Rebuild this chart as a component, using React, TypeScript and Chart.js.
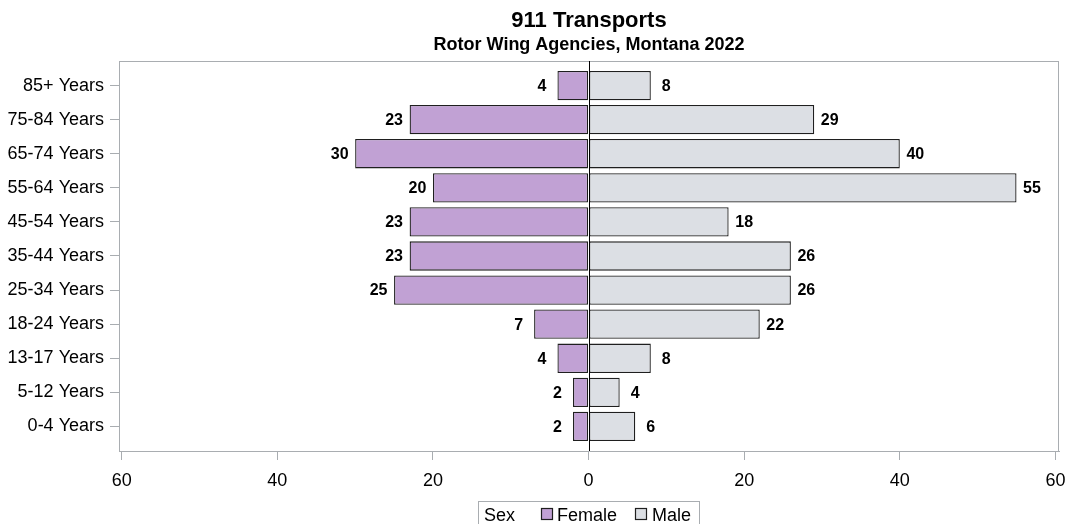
import React, { useEffect, useRef } from "react";
import { Chart, registerables } from "chart.js";

Chart.register(...registerables);

const ageGroups = [
  "85+ Years",
  "75-84 Years",
  "65-74 Years",
  "55-64 Years",
  "45-54 Years",
  "35-44 Years",
  "25-34 Years",
  "18-24 Years",
  "13-17 Years",
  "5-12 Years",
  "0-4 Years",
];
const femaleCounts = [4, 23, 30, 20, 23, 23, 25, 7, 4, 2, 2];
const maleCounts = [8, 29, 40, 55, 18, 26, 26, 22, 8, 4, 6];
const xTickValues = [-60, -40, -20, 0, 20, 40, 60];
const titleText = "911 Transports";
const subtitleText = "Rotor Wing Agencies, Montana 2022";
const legendTitle = "Sex";
const seriesNames = ["Female", "Male"];

const FONT = '"Liberation Sans", Arial, Helvetica, sans-serif';
const FEMALE_COLOR = "#c1a1d4";
const MALE_COLOR = "#dcdfe4";
const EDGE_COLOR = "#1f1f1f";
const FRAME_COLOR = "#a9adb1";

const decorPlugin = {
  id: "decor",
  afterDatasetsDraw(chart: any) {
    const ctx = chart.ctx;
    const area = chart.chartArea;
    const xScale = chart.scales.x;
    ctx.save();
    // top and right frame
    ctx.strokeStyle = FRAME_COLOR;
    ctx.lineWidth = 1;
    ctx.beginPath();
    ctx.moveTo(area.left, area.top + 0.5);
    ctx.lineTo(area.right, area.top + 0.5);
    ctx.moveTo(area.right - 0.5, area.top);
    ctx.lineTo(area.right - 0.5, area.bottom);
    ctx.stroke();
    // zero reference line
    const x0 = Math.round(xScale.getPixelForValue(0)) + 0.5;
    ctx.strokeStyle = "#000";
    ctx.beginPath();
    ctx.moveTo(x0, area.top);
    ctx.lineTo(x0, area.bottom);
    ctx.stroke();
    // data labels
    ctx.font = `bold 16px ${FONT}`;
    ctx.fillStyle = "#000";
    ctx.textAlign = "center";
    ctx.textBaseline = "middle";
    chart.data.datasets.forEach((ds: any, di: number) => {
      const meta = chart.getDatasetMeta(di);
      meta.data.forEach((el: any, i: number) => {
        const v = Math.abs(ds.data[i].x);
        const dir = ds.data[i].x < 0 ? -1 : 1;
        ctx.fillText(String(v), el.x + dir * 15.5, el.y + 1);
      });
    });
    ctx.restore();
  },
  afterDraw(chart: any) {
    const ctx = chart.ctx;
    const area = chart.chartArea;
    const cx = (area.left + area.right) / 2;
    ctx.save();
    ctx.fillStyle = "#000";
    ctx.textAlign = "center";
    ctx.textBaseline = "alphabetic";
    ctx.font = `bold 22px ${FONT}`;
    ctx.fillText(titleText, cx, 27);
    ctx.font = `bold 18px ${FONT}`;
    ctx.fillText(subtitleText, cx, 50);

    // legend
    ctx.strokeStyle = FRAME_COLOR;
    ctx.lineWidth = 1;
    ctx.strokeRect(478.5, 501.5, 221, 30);
    ctx.font = `18px ${FONT}`;
    ctx.textAlign = "left";
    ctx.fillText(legendTitle, 484, 521);
    const items = [
      { sx: 541, tx: 557, color: FEMALE_COLOR, label: seriesNames[0] },
      { sx: 635, tx: 652, color: MALE_COLOR, label: seriesNames[1] },
    ];
    items.forEach((it) => {
      ctx.fillStyle = it.color;
      ctx.fillRect(it.sx + 0.5, 508.5, 11, 11);
      ctx.strokeStyle = EDGE_COLOR;
      ctx.lineWidth = 1.2;
      ctx.strokeRect(it.sx + 0.5, 508.5, 11, 11);
      ctx.fillStyle = "#000";
      ctx.fillText(it.label, it.tx, 521);
    });
    ctx.restore();
  },
};

export default function App() {
  const canvasRef = useRef<HTMLCanvasElement>(null);

  useEffect(() => {
    if (!canvasRef.current) return;
    Chart.defaults.font.family = FONT;
    const chart = new Chart(canvasRef.current, {
      type: "bar",
      data: {
        datasets: [
          {
            label: seriesNames[0],
            data: femaleCounts.map((v, i) => ({ x: -v, y: i })),
            backgroundColor: FEMALE_COLOR,
            borderColor: EDGE_COLOR,
            borderWidth: 1.3,
            borderSkipped: false,
            grouped: false,
            barPercentage: 0.86,
            categoryPercentage: 1,
          } as any,
          {
            label: seriesNames[1],
            data: maleCounts.map((v, i) => ({ x: v, y: i })),
            backgroundColor: MALE_COLOR,
            borderColor: EDGE_COLOR,
            borderWidth: 1.3,
            borderSkipped: false,
            grouped: false,
            barPercentage: 0.86,
            categoryPercentage: 1,
          } as any,
        ],
      },
      options: {
        indexAxis: "y",
        responsive: false,
        animation: false,
        layout: { padding: { top: 61, right: 11, left: 0, bottom: 0 } },
        plugins: {
          legend: { display: false },
          title: { display: false },
          tooltip: { enabled: false },
        },
        scales: {
          x: {
            type: "linear",
            min: -60.35,
            max: 60.46,
            offset: false,
            afterBuildTicks: (scale: any) => {
              scale.ticks = xTickValues.map((v) => ({ value: v }));
            },
            afterFit: (scale: any) => {
              scale.height = 73;
              scale.paddingLeft = 0;
              scale.paddingRight = 0;
            },
            ticks: {
              autoSkip: false,
              maxRotation: 0,
              padding: 10,
              color: "#000",
              font: { size: 18, family: FONT },
              callback: (v: any) => String(Math.abs(Number(v))),
            },
            grid: {
              drawOnChartArea: false,
              drawTicks: true,
              tickLength: 9,
              offset: false,
              color: FRAME_COLOR,
            },
            border: { display: true, color: FRAME_COLOR },
          },
          y: {
            type: "linear",
            reverse: true,
            min: -0.72,
            max: 10.72,
            offset: false,
            afterBuildTicks: (scale: any) => {
              scale.ticks = ageGroups.map((_, i) => ({ value: i }));
            },
            afterFit: (scale: any) => {
              scale.width = 119;
              scale.paddingTop = 0;
              scale.paddingBottom = 0;
            },
            ticks: {
              autoSkip: false,
              padding: 6,
              color: "#000",
              font: { size: 18, family: FONT },
              callback: (v: any) => ageGroups[Number(v)] ?? "",
            },
            grid: {
              drawOnChartArea: false,
              drawTicks: true,
              tickLength: 9,
              offset: false,
              color: FRAME_COLOR,
            },
            border: { display: true, color: FRAME_COLOR },
          },
        },
      } as any,
      plugins: [decorPlugin],
    });
    return () => chart.destroy();
  }, []);

  return (
    <div
      style={{
        position: "fixed",
        left: 0,
        top: 0,
        width: 1070,
        height: 524,
        background: "#fff",
      }}
    >
      <canvas ref={canvasRef} width={1070} height={524} style={{ display: "block" }} />
    </div>
  );
}
